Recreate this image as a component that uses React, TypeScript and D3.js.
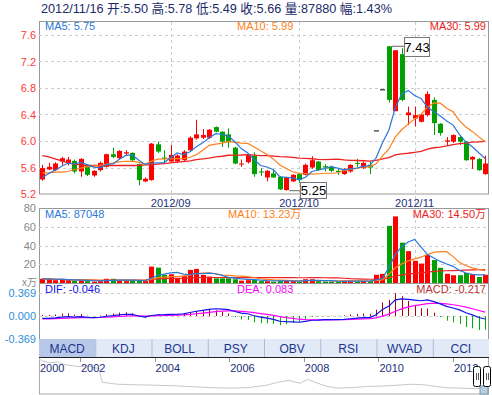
import React from 'react';
import * as d3 from 'd3';

const opens = [5.42,5.57,5.56,5.69,5.67,5.70,5.54,5.63,5.48,5.56,5.61,5.80,5.74,5.81,5.82,5.65,5.39,5.41,5.95,5.75,5.69,5.69,5.71,5.86,6.04,6.05,6.05,6.21,6.14,6.10,5.90,5.65,5.68,5.78,5.54,5.45,5.51,5.46,5.26,5.39,5.50,5.49,5.60,5.69,5.62,5.61,5.55,5.50,5.54,5.67,5.59,5.64,6.16,6.78,7.43,6.45,7.31,6.39,6.34,6.29,6.39,6.62,6.26,5.99,5.99,6.06,5.99,5.72,5.73,5.50];
const closes = [5.59,5.61,5.66,5.74,5.72,5.54,5.73,5.49,5.55,5.67,5.80,5.76,5.85,5.83,5.71,5.41,5.43,5.96,5.84,5.73,5.79,5.78,5.84,6.05,6.10,6.09,6.17,6.14,5.99,5.98,5.66,5.66,5.80,5.50,5.53,5.55,5.45,5.27,5.45,5.49,5.41,5.64,5.71,5.56,5.60,5.55,5.53,5.58,5.64,5.66,5.67,5.60,6.16,6.78,6.62,7.37,6.62,6.43,6.39,6.40,6.71,6.27,6.12,6.01,6.09,5.99,5.71,5.76,5.56,5.66];
const highs = [5.64,5.67,5.68,5.76,5.76,5.72,5.74,5.64,5.56,5.69,5.81,5.90,5.86,5.86,5.83,5.66,5.45,5.97,5.99,5.86,5.94,5.80,5.86,6.07,6.32,6.18,6.18,6.22,6.15,6.19,5.91,5.72,5.81,5.83,5.59,5.56,5.57,5.47,5.46,5.50,5.51,5.66,5.77,5.70,5.65,5.63,5.59,5.59,5.65,5.73,5.69,5.69,6.16,6.78,7.43,7.37,7.40,6.52,6.52,6.41,6.75,6.66,6.27,6.06,6.10,6.09,6.00,5.77,5.74,5.78];
const lows = [5.40,5.56,5.55,5.64,5.63,5.51,5.46,5.47,5.46,5.54,5.60,5.74,5.72,5.78,5.69,5.33,5.38,5.40,5.82,5.66,5.68,5.67,5.70,5.84,6.02,6.03,6.03,6.13,5.91,5.90,5.65,5.61,5.66,5.46,5.47,5.39,5.44,5.26,5.25,5.38,5.37,5.48,5.58,5.55,5.54,5.53,5.49,5.49,5.52,5.61,5.58,5.50,6.16,6.78,6.58,6.45,6.60,6.24,6.22,6.28,6.37,6.09,6.08,5.94,5.97,5.94,5.70,5.58,5.55,5.49];
// volume in 万
const volumes = [4.5,4.5,3,3.5,3,2.5,3,2,1.5,2,4.5,4.5,2.5,2,2.5,3,2,17.5,16.4,8.8,9.3,5,7.8,14,15,8.6,6.8,5,5,5,4,2.5,3,3.5,2,2,1.5,2.5,3,2,1.5,4,4,2,1.5,1.5,1.5,2.5,2.5,1.5,2,2,8.8,9.7,61,71,43,34,23.7,20.7,30,24.5,16.2,9.8,8.3,8.3,10.8,9.2,6.4,8.79];
const ma5Head = [5.45,5.51,5.56,5.62];
const ma10Head = [5.52,5.52,5.53,5.53,5.54,5.57,5.59,5.61,5.62];
const ma30Head = [5.78,5.76,5.73,5.70,5.67,5.65,5.64,5.63,5.63,5.63,5.63,5.63,5.63,5.63,5.63,5.63,5.64,5.64,5.65,5.66,5.67,5.68,5.69,5.70,5.72,5.73,5.74,5.76,5.77];
const macdStart = [5.62, 5.66, -0.05]; // EMA12, EMA26, DEA before first candle

const tickIndex = [20, 40, 58];
const tickLabels = ['2012/09', '2012/10', '2012/11'];
const priceTicks = [5.2,5.6,6.0,6.4,6.8,7.2,7.6];
const volTicks = [20,40,60,80];
const macdTicks = [-0.369, 0, 0.369];

const headerItems = ['2012/11/16', '开:5.50', '高:5.78', '低:5.49', '收:5.66', '量:87880', '幅:1.43%'];
const priceLegend = ['MA5: 5.75', 'MA10: 5.99', 'MA30: 5.99'];
const volLegend = ['MA5: 87048', 'MA10: 13.23万', 'MA30: 14.50万'];
const macdLegend = ['DIF: -0.046', 'DEA: 0.083', 'MACD: -0.217'];
const tabs = ['MACD','KDJ','BOLL','PSY','OBV','RSI','WVAD','CCI'];

const navYears = [2000.9,2001.0,2001.2,2001.4,2001.6,2001.8,2002.0,2002.2,2002.4,2002.5,2002.6,2002.8,2003.0,2003.5,2004.0,2004.5,2005.0,2005.5,2006.0,2006.5,2007.0,2007.3,2007.6,2007.9,2008.1,2008.3,2008.6,2008.9,2009.3,2009.6,2010.0,2010.5,2010.9,2011.2,2011.5,2011.8,2012.2,2012.6,2012.97];
const navValues = [35,33,31,32,29,28,27,28,26,25,11,10,9,8.5,8,7.5,6.5,5.5,5,5.5,8,11,13,10,14,11,7,5,5.5,6.5,7,8,9,8.5,7,5.5,5,4.5,5.5];
const navLabelYears = [2000,2002,2004,2006,2008,2010,2012];

const FONT = "Arial, 'Liberation Sans', 'Noto Sans CJK SC', sans-serif";
const RED = '#ff0000', GREEN = '#00a000';
const C5 = '#2a78d8', C10 = '#ff7f1a', C30 = '#ee2222';

export default function App() {
  const N = closes.length;
  const L = 39, R = 489;
  const xc = d3.scaleLinear().domain([0, N - 1]).range([42.3, 485.2]);
  const yP = d3.scaleLinear().domain([5.2, 7.6]).range([194, 35]);
  const yV = d3.scaleLinear().domain([0, 80]).range([283, 208]);
  const yM = d3.scaleLinear().domain([-0.369, 0.369]).range([339, 293]);

  const sma = (arr: number[], n: number, head: number[]) =>
    arr.map((_, i) => (i < head.length ? head[i] : (d3.mean(arr.slice(i - n + 1, i + 1)) as number)));
  const ma5 = sma(closes, 5, ma5Head);
  const ma10 = sma(closes, 10, ma10Head);
  const ma30 = sma(closes, 30, ma30Head);
  const vma = (n: number) => volumes.map((_, i) => d3.mean(volumes.slice(Math.max(0, i - n + 1), i + 1)) as number);
  const v5 = vma(5), v10 = vma(10), v30 = vma(30);

  let e12 = macdStart[0], e26 = macdStart[1], dea = macdStart[2];
  const difs: number[] = [], deas: number[] = [], bars: number[] = [];
  closes.forEach((c) => {
    e12 = e12 * 11 / 13 + c * 2 / 13;
    e26 = e26 * 25 / 27 + c * 2 / 27;
    const dif = e12 - e26;
    dea = dea * 0.8 + dif * 0.2;
    difs.push(dif); deas.push(dea); bars.push(2 * (dif - dea));
  });

  const lineP = (arr: number[]) => d3.line<number>().x((_, i) => xc(i)).y((d) => yP(d))(arr) as string;
  const lineV = (arr: number[]) => d3.line<number>().x((_, i) => xc(i)).y((d) => yV(d))(arr) as string;
  const lineM = (arr: number[]) => d3.line<number>().x((_, i) => xc(i)).y((d) => yM(d))(arr) as string;

  const colorOf = (i: number) => (opens[i] === closes[i] && highs[i] === lows[i]) ? '#000' : (closes[i] >= opens[i] ? RED : GREEN);
  const bw = 5;

  const xn = d3.scaleLinear().domain([2002, 2012]).range([80, 453]);
  const yn = d3.scaleLinear().domain([0, 36]).range([393, 358]);
  const navLine = d3.line<number>().x((_, i) => xn(navYears[i])).y((d) => yn(d))(navValues) as string;

  const hiIdx = d3.maxIndex(highs);
  const loIdx = d3.minIndex(lows);

  const tabW = (R - L) / tabs.length;

  return (
    <svg width={492} height={395} style={{ position: 'absolute', left: 0, top: 0, background: '#fff' }} fontFamily={FONT}>
      {/* header */}
      <text x={41} y={13} fontSize={12.7} fill="#1c2a6b">{headerItems.join(' ')}</text>

      {/* main panel */}
      <rect x={L + 0.5} y={21.5} width={R - L - 1} height={172.5} fill="#fff" stroke="#999" />
      {priceTicks.filter((t) => t > 5.2).map((t) => (
        <line key={t} x1={L} x2={R} y1={Math.round(yP(t)) + 0.5} y2={Math.round(yP(t)) + 0.5} stroke="#ccc" strokeDasharray="3,3" />
      ))}
      {tickIndex.map((ti) => (
        <line key={ti} x1={Math.round(xc(ti)) + 0.5} x2={Math.round(xc(ti)) + 0.5} y1={22} y2={283} stroke="#ccc" strokeDasharray="3,3" />
      ))}
      {priceTicks.map((t) => (
        <text key={t} x={36} y={yP(t) + 4} fontSize={11} fill="#ff3b3b" textAnchor="end">{t.toFixed(1)}</text>
      ))}
      {closes.map((c, i) => {
        const col = colorOf(i);
        const cx = Math.round(xc(i));
        const top = yP(Math.max(opens[i], c));
        const bot = yP(Math.min(opens[i], c));
        return (
          <g key={i}>
            <line x1={cx + 0.5} x2={cx + 0.5} y1={yP(highs[i])} y2={yP(lows[i])} stroke={col} />
            <rect x={cx - 2} y={top} width={bw} height={Math.max(1, bot - top)} fill={col} />
          </g>
        );
      })}
      <path d={lineP(ma30)} fill="none" stroke={C30} strokeWidth={1.3} />
      <path d={lineP(ma10)} fill="none" stroke={C10} strokeWidth={1.2} />
      <path d={lineP(ma5)} fill="none" stroke={C5} strokeWidth={1.2} />
      <text x={45} y={30} fontSize={11} fill={C5}>{priceLegend[0]}</text>
      <text x={237} y={30} fontSize={11} fill={C10}>{priceLegend[1]}</text>
      <text x={486} y={30} fontSize={11} fill={C30} textAnchor="end">{priceLegend[2]}</text>

      {/* date labels */}
      {tickIndex.map((ti, k) => (
        <text key={ti} x={xc(ti)} y={206.5} fontSize={11} fill="#1c2f7a" textAnchor="middle">{tickLabels[k]}</text>
      ))}

      {/* high / low labels */}
      <line x1={xc(hiIdx) + 3} x2={404} y1={yP(highs[hiIdx])} y2={yP(highs[hiIdx])} stroke="#666" />
      <rect x={404.5} y={37.5} width={25} height={19} fill="#fff" stroke="#777" />
      <text x={417} y={51.5} fontSize={13} fill="#000" textAnchor="middle">{highs[hiIdx].toFixed(2)}</text>
      <line x1={xc(loIdx) + 3} x2={301} y1={yP(lows[loIdx])} y2={yP(lows[loIdx])} stroke="#666" />
      <rect x={300.5} y={182.5} width={26} height={16} fill="#fff" stroke="#777" />
      <text x={313.5} y={195} fontSize={13} fill="#000" textAnchor="middle">{lows[loIdx].toFixed(2)}</text>

      {/* volume panel */}
      <line x1={L} x2={R} y1={208.5} y2={208.5} stroke="#999" />
      <line x1={L + 0.5} x2={L + 0.5} y1={208} y2={339} stroke="#999" />
      <line x1={R - 0.5} x2={R - 0.5} y1={208} y2={339} stroke="#999" />
      {volTicks.filter((t) => t < 80).map((t) => (
        <line key={t} x1={L} x2={R} y1={Math.round(yV(t)) + 0.5} y2={Math.round(yV(t)) + 0.5} stroke="#ccc" strokeDasharray="3,3" />
      ))}
      {volTicks.map((t) => (
        <text key={t} x={36} y={yV(t) + 4} fontSize={11} fill="#888" textAnchor="end">{t}</text>
      ))}
      <text x={37} y={286} fontSize={10} fill="#888" textAnchor="end">x万</text>
      {volumes.map((v, i) => {
        const cx = Math.round(xc(i));
        return <rect key={i} x={cx - 2} y={yV(v)} width={bw} height={yV(0) - yV(v)} fill={colorOf(i) === '#000' ? RED : colorOf(i)} />;
      })}
      <path d={lineV(v30)} fill="none" stroke={C30} strokeWidth={1.2} />
      <path d={lineV(v10)} fill="none" stroke={C10} strokeWidth={1.2} />
      <path d={lineV(v5)} fill="none" stroke={C5} strokeWidth={1.2} />
      <text x={45} y={218} fontSize={11} fill={C5}>{volLegend[0]}</text>
      <text x={228} y={218} fontSize={11} fill={C10}>{volLegend[1]}</text>
      <text x={486} y={218} fontSize={11} fill={C30} textAnchor="end">{volLegend[2]}</text>

      {/* macd panel */}
      <line x1={L} x2={R} y1={283.5} y2={283.5} stroke="#999" />
      {macdTicks.filter((t) => t > -0.3).map((t) => (
        <line key={t} x1={L} x2={R} y1={Math.round(yM(t)) + 0.5} y2={Math.round(yM(t)) + 0.5} stroke="#ccc" strokeDasharray="3,3" />
      ))}
      {macdTicks.map((t) => (
        <text key={t} x={36} y={yM(t) + 4} fontSize={11} fill="#2e8fd6" textAnchor="end">{t.toFixed(3)}</text>
      ))}
      {bars.map((b, i) => (
        <line key={i} x1={Math.round(xc(i)) + 0.5} x2={Math.round(xc(i)) + 0.5} y1={yM(0)} y2={yM(b)} stroke={b >= 0 ? '#b00000' : '#00b000'} />
      ))}
      <path d={lineM(deas)} fill="none" stroke="#ff00ff" strokeWidth={1.2} />
      <path d={lineM(difs)} fill="none" stroke="#1010ee" strokeWidth={1.2} />
      <text x={45} y={293} fontSize={11} fill="#1010ee">{macdLegend[0]}</text>
      <text x={237} y={293} fontSize={11} fill="#ff00ff">{macdLegend[1]}</text>
      <text x={486} y={293} fontSize={11} fill="#c03030" textAnchor="end">{macdLegend[2]}</text>

      {/* tabs */}
      <rect x={L} y={339} width={R - L} height={18} fill="#e3eaf7" />
      <rect x={L} y={339} width={tabW} height={18} fill="#b7c8e8" />
      {tabs.map((t, k) => (
        <g key={t}>
          {k > 0 && <line x1={L + k * tabW + 0.5} x2={L + k * tabW + 0.5} y1={339} y2={357} stroke="#a9bbdc" />}
          <text x={L + k * tabW + tabW / 2} y={352.5} fontSize={12} fill="#1a3590" textAnchor="middle">{t}</text>
        </g>
      ))}

      {/* navigator */}
      <rect x={L + 0.5} y={357.5} width={R - L - 1} height={36.5} fill="#fff" stroke="#aaa" />
      <line x1={L} x2={R} y1={357.5} y2={357.5} stroke="#222" />
      <path d={navLine} fill="none" stroke="#c8c8c8" strokeWidth={1} />
      {navLabelYears.map((yr) => (
        <g key={yr}>
          {yr > 2000 && <line x1={Math.round(xn(yr)) + 0.5} x2={Math.round(xn(yr)) + 0.5} y1={358} y2={362} stroke="#999" />}
          <text x={yr === 2000 ? 40 : xn(yr) + 1} y={372} fontSize={11} fill="#1c2f7a">{yr}</text>
        </g>
      ))}
      <rect x={480} y={386} width={8} height={8} fill="#b7cfe0" stroke="#7a9cb6" />
      <rect x={473.5} y={366.5} width={7} height={20} rx={2} fill="#fff" stroke="#000" />
      <line x1={476.5} x2={476.5} y1={373} y2={380} stroke="#555" />
      <line x1={478.5} x2={478.5} y1={373} y2={380} stroke="#555" />
      <rect x={483.5} y={366.5} width={7} height={20} rx={2} fill="#fff" stroke="#000" />
      <line x1={486.5} x2={486.5} y1={373} y2={380} stroke="#555" />
      <line x1={488.5} x2={488.5} y1={373} y2={380} stroke="#555" />
    </svg>
  );
}
